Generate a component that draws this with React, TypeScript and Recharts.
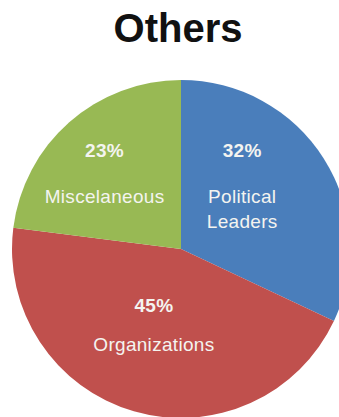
import { PieChart, Pie, Cell } from 'recharts';

const categories = ['Political Leaders', 'Organizations', 'Miscellaneous'];
const labelLines = [['Political', 'Leaders'], ['Organizations'], ['Miscelaneous']];
const shares = [32, 45, 23];
const COLORS = ['#4a7ebb', '#c0504d', '#98b954'];

const data = categories.map((name, i) => ({ name, value: shares[i] }));

// label placement: fraction of radius along the mid angle, a nudge, and the gap from % to name
const LABEL_R = [0.52, 0.49, 0.63];
const NUDGE = [
  { dx: -13, dy: -45 },
  { dx: -4, dy: -17 },
  { dx: -6, dy: -12 },
];
const GAP = [46, 39, 46];

const RADIAN = Math.PI / 180;
const FONT = "'Liberation Sans', Arial, sans-serif";

function renderLabel(props: any) {
  const { cx, cy, midAngle, outerRadius, index, value } = props;
  const r = outerRadius * LABEL_R[index];
  const x = cx + r * Math.cos(-midAngle * RADIAN) + NUDGE[index].dx;
  const y = cy + r * Math.sin(-midAngle * RADIAN) + NUDGE[index].dy;
  const lines = labelLines[index];
  return (
    <g key={`lbl-${index}`}>
      <text x={x} y={y} textAnchor="middle" fill="#f4f4f0" fontFamily={FONT} fontWeight="bold" fontSize={19} letterSpacing={0.3}>
        {`${value}%`}
      </text>
      {lines.map((ln, k) => (
        <text
          key={k}
          x={x}
          y={y + GAP[index] + k * 25}
          textAnchor="middle"
          fill="#f4f4f0"
          fontFamily={FONT}
          fontSize={19}
          letterSpacing={0.3}
        >
          {ln}
        </text>
      ))}
    </g>
  );
}

export default function App() {
  return (
    <div style={{ position: 'absolute', left: 0, top: 0, width: 339, height: 417, background: '#fff', overflow: 'hidden' }}>
      <div
        style={{
          position: 'absolute',
          left: 0,
          top: 8,
          width: 356,
          textAlign: 'center',
          fontFamily: FONT,
          fontWeight: 'bold',
          fontSize: 40,
          lineHeight: '40px',
          color: '#111',
        }}
      >
        Others
      </div>
      <PieChart width={339} height={417} margin={{ top: 0, right: 0, bottom: 0, left: 0 }}>
        <Pie
          data={data}
          dataKey="value"
          nameKey="name"
          cx={181}
          cy={249}
          outerRadius={169}
          startAngle={90}
          endAngle={-270}
          stroke="none"
          label={renderLabel}
          labelLine={false}
          isAnimationActive={false}
        >
          {data.map((d, i) => (
            <Cell key={d.name} fill={COLORS[i]} />
          ))}
        </Pie>
      </PieChart>
    </div>
  );
}
